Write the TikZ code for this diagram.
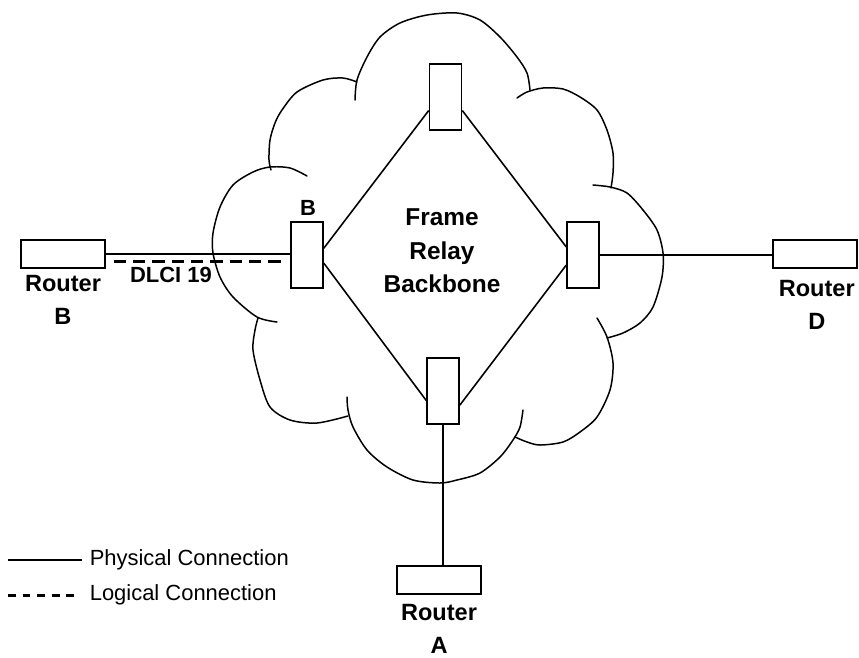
\documentclass[tikz,border=0pt]{standalone}
\usepackage{fontspec}
\setmainfont{Liberation Sans}
\usetikzlibrary{calc}

\begin{document}
\begin{tikzpicture}[x=0.02cm,y=-0.02cm,line width=0.9pt,
  rt/.style={draw,minimum width=1.68cm,minimum height=0.56cm,inner sep=0pt},
  sw/.style={draw,minimum width=0.64cm,minimum height=1.32cm,inner sep=0pt},
  nm/.style={font=\fontsize{13.4}{18.8}\selectfont\bfseries,align=center,inner sep=0pt,anchor=north},
  tg/.style={font=\fontsize{12.5}{15}\selectfont\bfseries,inner sep=0pt},
  ky/.style={font=\fontsize{12.5}{15}\selectfont,inner sep=0pt,anchor=west},
  ln/.style={line width=0.9pt},
  lg/.style={line width=1.7pt,dash pattern=on 7pt off 4pt},
  cl/.style={line width=0.85pt,line cap=round}]
  \useasboundingbox (0,0) rectangle (859,657);
  % cloud, one lobe at a time
  \draw[cl] plot[smooth] coordinates {(355,100) (357,80) (367,57) (380,37) (400,23) (427,15) (457,13) (480,20) (500,37) (517,57) (527,73) (530,90)};
  \draw[cl] plot[smooth] coordinates {(517,98) (527,92) (543,88) (563,89) (580,97) (597,110) (607,130) (613,153) (613,173) (611,188)};
  \draw[cl] plot[smooth] coordinates {(593,185) (610,187) (627,193) (643,210) (657,230) (663,253) (662,277) (653,307) (640,323) (623,333) (607,338)};
  \draw[cl] plot[smooth] coordinates {(597,318) (607,337) (613,363) (610,390) (597,417) (580,432) (563,442) (540,445) (527,442) (515,437)};
  \draw[cl] plot[smooth] coordinates {(523,410) (520,427) (513,440) (500,457) (480,473) (457,480) (440,483) (413,480) (387,467) (367,450) (353,427) (348,410) (347,397)};
  \draw[cl] plot[smooth] coordinates {(348,416) (317,423) (290,420) (270,407) (260,380) (253,350) (255,330) (258,318)};
  \draw[cl] plot[smooth] coordinates {(307,176) (290,168) (270,167) (253,172) (233,185) (220,207) (213,233) (213,253) (220,277) (233,297) (257,317) (277,322)};
  \draw[cl] plot[smooth] coordinates {(271,170) (269,160) (270,140) (275,123) (282,110) (297,92) (323,80) (343,78) (357,82)};

  \node[sw] (swb) at (307,255) {};
  \node[sw] (swt) at (445.5,97) {};
  \node[sw] (swd) at (583,255) {};
  \node[sw] (swa) at (443,391) {};
  \node[rt] (rb) at (63,254) {};
  \node[rt] (rd) at (815,254) {};
  \node[rt] (ra) at (439,580) {};
  \node[nm] (rbl) at ([yshift=-3pt]rb.south) {Router\\B};
  \node[nm] (rdl) at ([xshift=1pt,yshift=-6pt]rd.south) {Router\\D};
  \node[nm] (ral) at ([yshift=-5pt]ra.south) {Router\\A};
  \node[tg] (swbl) at (308,208) {B};
  \node[tg] (dlci) at (171,275) {DLCI 19};
  \node[font=\fontsize{13.9}{19}\selectfont\bfseries,align=center,inner sep=0pt] (frb) at (442,251) {Frame\\Relay\\Backbone};

  \draw[ln] (rb) -- (rb -| swb.west);
  \draw[lg] ($(rb.east)+(8,7)$) -- ($(rb.east -| swb.west)+(-7,7)$);
  \draw[ln] ($(swb.north east)!0.4!(swb.south east)$) -- ($(swt.north west)!0.7!(swt.south west)$);
  \draw[ln] ($(swt.north east)!0.7!(swt.south east)$) -- ($(swd.north west)!0.38!(swd.south west)$);
  \draw[ln] ($(swb.north east)!0.62!(swb.south east)$) -- ($(swa.north west)!0.64!(swa.south west)$);
  \draw[ln] ($(swa.north east)!0.71!(swa.south east)$) -- ($(swd.north west)!0.65!(swd.south west)$);
  \draw[ln] (swd) -- (swd -| rd.west);
  \draw[ln] (swa.south) -- (swa.south |- ra.north);

  \node[ky] (kph) at (89,560) {Physical Connection};
  \node[ky] (klg) at (89,595) {Logical Connection};
  \coordinate (kp) at (8,560);
  \coordinate (kl) at (8,595);
  \draw[ln] (kp) -- ([xshift=-4pt]kph.west);
  \draw[lg,dash pattern=on 4.5pt off 3.8pt] (kl) -- ([xshift=-6pt]klg.west);
\end{tikzpicture}
\end{document}
